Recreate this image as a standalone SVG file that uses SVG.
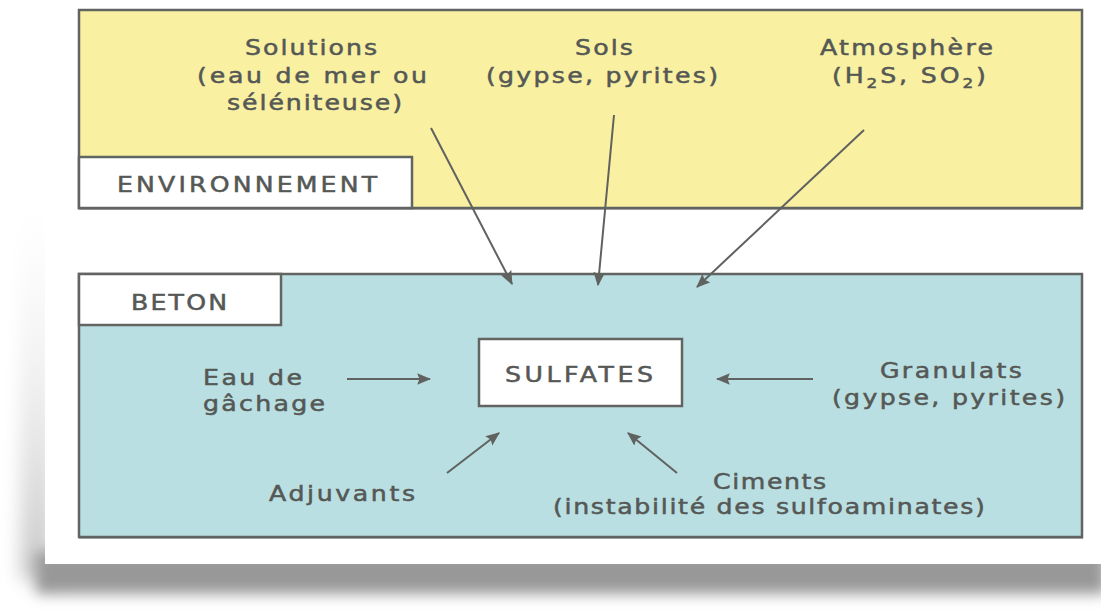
<svg xmlns="http://www.w3.org/2000/svg" width="1101" height="610" viewBox="0 0 1101 610">
<style>
.t{font-family:"DejaVu Sans","Liberation Sans",sans-serif;font-size:21px;fill:#555855;stroke:#555855;stroke-width:0.5}
.box{stroke:#616461;stroke-width:2.5}
.edge{stroke:#616461;stroke-width:2;fill:none}
.arr{stroke:#5f625f;stroke-width:2;fill:none;marker-end:url(#ah)}
</style>
<defs>
<marker id="ah" viewBox="0 0 12 10" refX="11" refY="5" markerWidth="14" markerHeight="12" markerUnits="userSpaceOnUse" orient="auto">
<path d="M0,0 L12,5 L0,10 L2,5 Z" fill="#5f625f"/>
</marker>
<filter id="b6" x="-20%" y="-50%" width="140%" height="200%"><feGaussianBlur stdDeviation="7"/></filter>
<filter id="b10" x="-100%" y="-20%" width="300%" height="140%"><feGaussianBlur stdDeviation="9"/></filter>
<linearGradient id="lg" x1="0" y1="0" x2="0" y2="1">
<stop offset="0" stop-color="#f4f4f4" stop-opacity="0"/>
<stop offset="1" stop-color="#c8c8c8"/>
</linearGradient>
</defs>
<rect width="1101" height="610" fill="#ffffff"/>
<g id="shadow">
<rect x="20" y="190" width="34" height="390" fill="url(#lg)" filter="url(#b10)"/>
<rect x="36" y="552" width="1070" height="42" fill="#989898" filter="url(#b6)"/>
<rect x="45" y="0" width="1056" height="564" fill="#ffffff"/>
</g>
<g id="environnement">
<rect class="box" x="79" y="10" width="1003" height="198" fill="#f9f0a2"/>
<path class="edge" d="M1082,10 V209 M79,208.5 H1083"/>
<rect class="box" x="79" y="157" width="333" height="51" fill="#ffffff"/>
<text class="t" transform="scale(1.2 1)" x="97.5" y="192" textLength="216.7">ENVIRONNEMENT</text>
</g>
<g id="solutions" transform="scale(1.2 1)">
<text class="t" x="204.2" y="55" textLength="110">Solutions</text>
<text class="t" x="164.2" y="83" textLength="191.7">(eau de mer ou</text>
<text class="t" x="189.2" y="110" textLength="145.8">séléniteuse)</text>
</g>
<g id="sols" transform="scale(1.2 1)">
<text class="t" x="479.2" y="55" textLength="48.3">Sols</text>
<text class="t" x="405" y="83" textLength="193.3">(gypse, pyrites)</text>
</g>
<g id="atmosphere" transform="scale(1.2 1)">
<text class="t" x="683.3" y="55" textLength="144.2">Atmosphère</text>
<text class="t" x="693.3" y="83" textLength="128.3">(H<tspan font-size="14" dy="5">2</tspan><tspan dy="-5">S, SO</tspan><tspan font-size="14" dy="5">2</tspan><tspan dy="-5">)</tspan></text>
</g>
<g id="beton">
<rect class="box" x="79" y="274" width="1003" height="263" fill="#badfe2"/>
<path class="edge" d="M1082,274 V538 M79,537.5 H1083"/>
<rect class="box" x="79" y="274" width="202" height="51" fill="#ffffff"/>
<text class="t" transform="scale(1.2 1)" x="109.2" y="310" textLength="80">BETON</text>
</g>
<g id="sulfates">
<rect class="box" x="479" y="339" width="203" height="67" fill="#ffffff"/>
<text class="t" transform="scale(1.2 1)" x="420.8" y="382" textLength="123.3">SULFATES</text>
</g>
<g id="eau" transform="scale(1.2 1)">
<text class="t" x="169.2" y="385" textLength="82.5">Eau de</text>
<text class="t" x="169.2" y="411" textLength="101.7">gâchage</text>
</g>
<g id="granulats" transform="scale(1.2 1)">
<text class="t" x="733.3" y="378" textLength="118.3">Granulats</text>
<text class="t" x="693.3" y="405" textLength="194.2">(gypse, pyrites)</text>
</g>
<g id="adjuvants" transform="scale(1.2 1)">
<text class="t" x="224.2" y="501" textLength="121.7">Adjuvants</text>
</g>
<g id="ciments" transform="scale(1.2 1)">
<text class="t" x="594.2" y="489" textLength="94.2">Ciments</text>
<text class="t" x="460.8" y="514" textLength="360">(instabilité des sulfoaminates)</text>
</g>
<g id="connectors">
<line class="arr" x1="431" y1="128" x2="512" y2="284"/>
<line class="arr" x1="614" y1="115" x2="598" y2="285"/>
<line class="arr" x1="864" y1="130" x2="697" y2="287"/>
<line class="arr" x1="347" y1="379" x2="430" y2="379"/>
<line class="arr" x1="813" y1="379" x2="717" y2="379"/>
<line class="arr" x1="447" y1="473" x2="499" y2="433"/>
<line class="arr" x1="677" y1="473" x2="628" y2="433"/>
</g>
</svg>
